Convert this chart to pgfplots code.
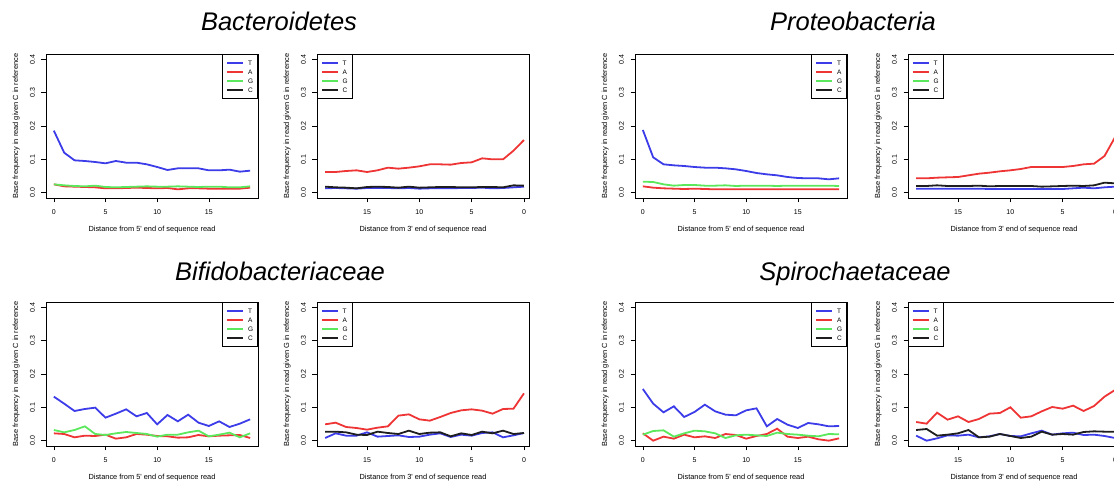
\documentclass[border=0pt]{standalone}
\usepackage{fontspec}
\setmainfont{Liberation Sans}
\usepackage{pgfplots}
\pgfplotsset{compat=1.18}
\usepackage{pgfplotstable}

\definecolor{tcol}{RGB}{60,60,232}
\definecolor{acol}{RGB}{238,52,52}
\definecolor{gcol}{RGB}{92,232,92}
\definecolor{ccol}{RGB}{30,30,30}

% 5' end panels: pos T A G (C is off the chart)
\pgfplotstableread{
pos T A G
0 .186 .025 .025
1 .120 .019 .022
2 .097 .018 .020
3 .095 .017 .019
4 .092 .016 .021
5 .088 .013 .017
6 .095 .013 .016
7 .090 .014 .017
8 .090 .015 .018
9 .085 .014 .019
10 .077 .013 .018
11 .068 .014 .018
12 .073 .010 .019
13 .073 .013 .018
14 .073 .013 .017
15 .067 .012 .018
16 .067 .012 .018
17 .069 .012 .016
18 .063 .012 .016
19 .066 .015 .019
}\bactfive
\pgfplotstableread{
pos T A G
0 .188 .019 .033
1 .106 .015 .032
2 .085 .013 .025
3 .082 .012 .021
4 .080 .011 .023
5 .077 .012 .023
6 .075 .011 .021
7 .075 .010 .021
8 .073 .010 .022
9 .070 .010 .020
10 .065 .010 .021
11 .059 .010 .021
12 .055 .010 .021
13 .052 .010 .020
14 .047 .010 .021
15 .044 .010 .021
16 .043 .010 .021
17 .043 .010 .021
18 .040 .010 .021
19 .043 .010 .020
}\protfive
\pgfplotstableread{
pos T A G
0 .132 .022 .032
1 .111 .020 .025
2 .089 .010 .032
3 .095 .015 .043
4 .099 .014 .020
5 .069 .018 .017
6 .081 .006 .022
7 .094 .010 .026
8 .073 .020 .023
9 .083 .018 .020
10 .049 .014 .012
11 .077 .013 .018
12 .058 .009 .018
13 .078 .010 .025
14 .054 .017 .030
15 .044 .013 .013
16 .058 .015 .018
17 .041 .016 .024
18 .051 .017 .010
19 .064 .008 .022
}\bififive
\pgfplotstableread{
pos T A G
0 .155 .022 .018
1 .111 .000 .029
2 .085 .012 .031
3 .103 .006 .012
4 .071 .018 .022
5 .086 .010 .030
6 .108 .013 .028
7 .088 .008 .022
8 .078 .020 .008
9 .076 .017 .016
10 .091 .006 .018
11 .097 .014 .016
12 .043 .020 .014
13 .065 .036 .024
14 .048 .012 .020
15 .038 .008 .018
16 .053 .012 .015
17 .049 .004 .013
18 .043 .000 .020
19 .044 .007 .019
}\spirfive

% 3' end panels: pos T A C (G is off the chart)
\pgfplotstableread{
pos T A C
19 .013 .062 .018
18 .014 .062 .016
17 .013 .065 .015
16 .012 .067 .013
15 .014 .062 .017
14 .014 .067 .018
13 .014 .075 .017
12 .013 .072 .015
11 .014 .075 .018
10 .012 .079 .015
9 .013 .085 .016
8 .013 .085 .017
7 .013 .084 .017
6 .014 .089 .016
5 .014 .091 .016
4 .015 .103 .017
3 .013 .100 .017
2 .014 .100 .016
1 .016 .126 .022
0 .018 .158 .021
}\bactthree
\pgfplotstableread{
pos T A C
19 .012 .043 .020
18 .012 .043 .020
17 .012 .045 .022
16 .012 .046 .020
15 .012 .047 .020
14 .012 .052 .020
13 .012 .057 .021
12 .011 .060 .019
11 .011 .064 .020
10 .011 .067 .020
9 .011 .071 .020
8 .011 .077 .020
7 .011 .077 .018
6 .011 .077 .019
5 .011 .077 .020
4 .013 .080 .021
3 .015 .085 .020
2 .013 .087 .022
1 .016 .110 .030
0 .018 .166 .028
}\protthree
\pgfplotstableread{
pos T A C
19 .008 .049 .027
18 .022 .054 .027
17 .015 .041 .025
16 .015 .038 .018
15 .025 .033 .017
14 .012 .039 .027
13 .014 .043 .023
12 .016 .075 .020
11 .011 .079 .030
10 .012 .064 .020
9 .018 .060 .024
8 .022 .071 .025
7 .011 .083 .013
6 .018 .091 .022
5 .015 .094 .017
4 .023 .090 .027
3 .025 .081 .022
2 .010 .095 .030
1 .016 .096 .020
0 .023 .142 .023
}\bifithree
\pgfplotstableread{
pos T A C
19 .015 .056 .032
18 .000 .051 .035
17 .007 .084 .015
16 .016 .063 .018
15 .015 .073 .022
14 .018 .056 .032
13 .010 .065 .010
12 .013 .081 .012
11 .020 .083 .020
10 .014 .100 .014
9 .013 .069 .008
8 .022 .073 .012
7 .030 .088 .027
6 .018 .101 .018
5 .022 .096 .020
4 .024 .105 .018
3 .017 .089 .026
2 .018 .104 .028
1 .014 .132 .027
0 .008 .152 .027
}\spirthree

\pgfplotsset{
  rpanel/.style={
    scale only axis, width=212pt, height=144pt, anchor=north west,
    ymin=-0.016, ymax=0.416,
    ytick={0,0.1,0.2,0.3,0.4}, yticklabels={0.0,0.1,0.2,0.3,0.4},
    xtick={0,5,10,15}, xticklabels={0,5,10,15},
    tick pos=left, tick align=outside, major tick length=4.5pt,
    every tick/.style={black, line width=0.6pt},
    axis line style={line width=0.9pt},
    tick label style={font=\fontsize{7}{7}\selectfont},
    xticklabel style={yshift=-4pt},
    yticklabel style={xshift=-3pt, rotate=90, anchor=south},
    label style={font=\fontsize{7.4}{8}\selectfont},
    xlabel shift=4.5pt, ylabel shift=3.5pt,
    legend style={draw=black, line width=0.8pt, inner xsep=3.5pt, inner ysep=5pt,
      font=\fontsize{6.5}{6.5}\selectfont, row sep=2pt,
      nodes={inner sep=1pt, text height=5pt, text depth=0pt},
      /tikz/every odd column/.append style={column sep=3pt}},
    legend cell align=left,
    legend image code/.code={\draw[#1, line width=1.7pt] (0pt,0pt) -- (16pt,0pt);},
    every axis plot post/.append style={line width=1.8pt},
  },
  five/.style={rpanel, xmin=-0.76, xmax=19.76,
    xlabel={Distance from 5\textquotesingle{} end of sequence read},
    ylabel={Base frequency in read given C in reference},
    legend style={at={(rel axis cs:1,1)}, anchor=north east}},
  three/.style={rpanel, x dir=reverse, xmin=-0.48, xmax=19.78,
    xlabel={Distance from 3\textquotesingle{} end of sequence read},
    ylabel={Base frequency in read given G in reference},
    legend style={at={(rel axis cs:0,1)}, anchor=north west}},
}

\newcommand{\fiveplots}[1]{%
  \addplot[tcol] table[x=pos,y=T]{#1}; \addlegendentry{T}
  \addplot[acol] table[x=pos,y=A]{#1}; \addlegendentry{A}
  \addplot[gcol] table[x=pos,y=G]{#1}; \addlegendentry{G}
  \addlegendimage{ccol} \addlegendentry{C}
}
\newcommand{\threeplots}[1]{%
  \addplot[tcol] table[x=pos,y=T]{#1}; \addlegendentry{T}
  \addplot[acol] table[x=pos,y=A]{#1}; \addlegendentry{A}
  \addlegendimage{gcol} \addlegendentry{G}
  \addplot[ccol] table[x=pos,y=C]{#1}; \addlegendentry{C}
}

\begin{document}
\begin{tikzpicture}
\useasboundingbox (0pt,0pt) rectangle (1114pt,480pt);

\begin{axis}[five, at={(46pt,426pt)}] \fiveplots{\bactfive} \end{axis}
\begin{axis}[three, at={(317pt,426pt)}] \threeplots{\bactthree} \end{axis}
\begin{axis}[five, at={(635pt,426pt)}] \fiveplots{\protfive} \end{axis}
\begin{axis}[three, at={(908pt,426pt)}] \threeplots{\protthree} \end{axis}

\begin{axis}[five, at={(46pt,178pt)}] \fiveplots{\bififive} \end{axis}
\begin{axis}[three, at={(317pt,178pt)}] \threeplots{\bifithree} \end{axis}
\begin{axis}[five, at={(635pt,178pt)}] \fiveplots{\spirfive} \end{axis}
\begin{axis}[three, at={(908pt,178pt)}] \threeplots{\spirthree} \end{axis}

\begin{scope}[every node/.style={font=\fontsize{25.5}{28}\selectfont\itshape, anchor=base}]
\node at (279pt,449pt) {Bacteroidetes};
\node at (853pt,449pt) {Proteobacteria};
\node at (280pt,200pt) {Bifidobacteriaceae};
\node at (855pt,200pt) {Spirochaetaceae};
\end{scope}
\end{tikzpicture}
\end{document}
